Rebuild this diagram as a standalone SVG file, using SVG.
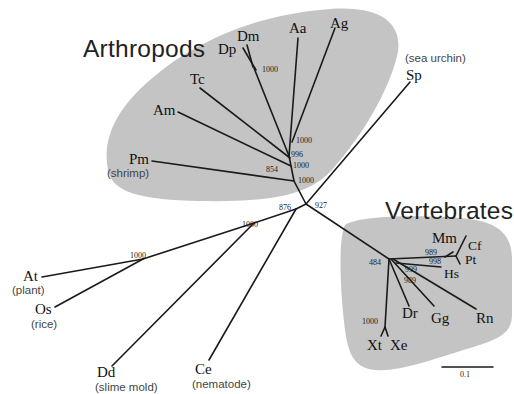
<svg xmlns="http://www.w3.org/2000/svg" width="514" height="394" viewBox="0 0 514 394">
<style>
.blob{fill:#c4c4c4;stroke:none}
.br{stroke:#1a1a1a;stroke-width:1.6;fill:none;stroke-linecap:round}
.sp{font-family:"Liberation Serif","Times New Roman",serif;font-size:15px;fill:#111}
.sm{font-size:13.5px}
.cn{font-family:"Liberation Sans",Arial,sans-serif;font-size:11.5px;fill:#444}
.grp{font-family:"Liberation Sans",Arial,sans-serif;font-size:24.5px;fill:#222}
.bs{font-family:"Liberation Serif","Times New Roman",serif;font-size:8px;fill:#222}
</style>
<rect width="514" height="394" fill="#fff"/>
<g id="arthropods-region">
<path class="blob" d="M108,170 C102,140 115,110 150,80 C190,45 250,15 330,9 C390,5 405,30 396,60 C385,100 355,145 330,172 C305,198 260,202 200,201 C140,200 112,192 108,170 Z"/>
</g>
<g id="vertebrates-region">
<path class="blob" d="M345,225 C360,215 420,215 460,218 C500,221 512,235 512,260 L512,315 C512,335 495,340 470,348 C430,360 400,372 375,370 C352,368 348,350 345,330 C340,290 338,240 345,225 Z"/>
</g>
<g id="connectors">
<path class="br" d="M335,28 L292,142"/>
<path class="br" d="M298,38 L289,156"/>
<path class="br" d="M243,48 L256,70"/>
<path class="br" d="M247,45 L253,67"/>
<path class="br" d="M254,68 L289,156"/>
<path class="br" d="M200,88 L290,158"/>
<path class="br" d="M178,112 L291,166"/>
<path class="br" d="M152,161 L294,181"/>
<path class="br" d="M289,156 L294,181 L306,204"/>
<path class="br" d="M410,82 L306,204"/>
<path class="br" d="M306,204 L389,259"/>
<path class="br" d="M306,204 L296,209"/>
<path class="br" d="M296,209 L254,223"/>
<path class="br" d="M296,209 L209,360"/>
<path class="br" d="M254,223 L112,366"/>
<path class="br" d="M254,223 L143,259"/>
<path class="br" d="M143,259 L42,277"/>
<path class="br" d="M143,259 L55,307"/>
<path class="br" d="M389,259 L385,327 L381,336"/>
<path class="br" d="M385,327 L388,336"/>
<path class="br" d="M389,259 L409,306"/>
<path class="br" d="M391,259 L434,306"/>
<path class="br" d="M393,259 L476,309"/>
<path class="br" d="M389,259 L456,256"/>
<path class="br" d="M396,263 L441,267"/>
<path class="br" d="M445,257 L453,252"/>
<path class="br" d="M456,256 L466,236"/>
<path class="br" d="M456,256 L460,264"/>
<path class="br" d="M442,367 L493,367"/>
</g>
<g id="labels-groups">
<text class="grp" x="83" y="57" textLength="122">Arthropods</text>
<text class="grp" x="385" y="219" textLength="128">Vertebrates</text>
</g>
<g id="node-Dp"><text class="sp" x="218" y="54">Dp</text></g>
<g id="node-Dm"><text class="sp" x="237" y="41">Dm</text></g>
<g id="node-Aa"><text class="sp" x="289" y="33">Aa</text></g>
<g id="node-Ag"><text class="sp" x="330" y="28">Ag</text></g>
<g id="node-Tc"><text class="sp" x="190" y="84">Tc</text></g>
<g id="node-Am"><text class="sp" x="153" y="115">Am</text></g>
<g id="node-Pm"><text class="sp" x="129" y="164">Pm</text><text class="cn" x="107" y="177">(shrimp)</text></g>
<g id="node-Sp"><text class="cn" x="405" y="62">(sea urchin)</text><text class="sp" x="406" y="80">Sp</text></g>
<g id="node-At"><text class="sp" x="23" y="281">At</text><text class="cn" x="12" y="294">(plant)</text></g>
<g id="node-Os"><text class="sp" x="35" y="314">Os</text><text class="cn" x="31" y="328">(rice)</text></g>
<g id="node-Dd"><text class="sp" x="97" y="377">Dd</text><text class="cn" x="95" y="391">(slime mold)</text></g>
<g id="node-Ce"><text class="sp" x="195" y="374">Ce</text><text class="cn" x="192" y="388">(nematode)</text></g>
<g id="node-Mm"><text class="sp" x="432" y="243">Mm</text></g>
<g id="node-Cf"><text class="sp sm" x="468" y="250">Cf</text></g>
<g id="node-Pt"><text class="sp sm" x="465" y="264">Pt</text></g>
<g id="node-Hs"><text class="sp sm" x="444" y="278">Hs</text></g>
<g id="node-Dr"><text class="sp" x="402" y="318">Dr</text></g>
<g id="node-Gg"><text class="sp" x="431" y="323">Gg</text></g>
<g id="node-Rn"><text class="sp" x="476" y="323">Rn</text></g>
<g id="node-Xt"><text class="sp" x="367" y="350">Xt</text></g>
<g id="node-Xe"><text class="sp" x="390" y="350">Xe</text></g>
<g id="bootstrap">
<text class="bs" x="262" y="72">1000</text>
<text class="bs" x="296" y="143">1000</text>
<text class="bs" x="291" y="157">996</text>
<text class="bs" x="266" y="172">854</text>
<text class="bs" x="293" y="168">1000</text>
<text class="bs" x="298" y="183">1000</text>
<text class="bs" x="279" y="210">876</text>
<text class="bs" x="315" y="208">927</text>
<text class="bs" x="242" y="227">1000</text>
<text class="bs" x="130" y="258">1000</text>
<text class="bs" x="369" y="265">484</text>
<text class="bs" x="425" y="255">989</text>
<text class="bs" x="429" y="264">998</text>
<text class="bs" x="405" y="272">999</text>
<text class="bs" x="404" y="283">989</text>
<text class="bs" x="362" y="324">1000</text>
<text class="bs" x="460" y="377">0.1</text>
</g>
</svg>
